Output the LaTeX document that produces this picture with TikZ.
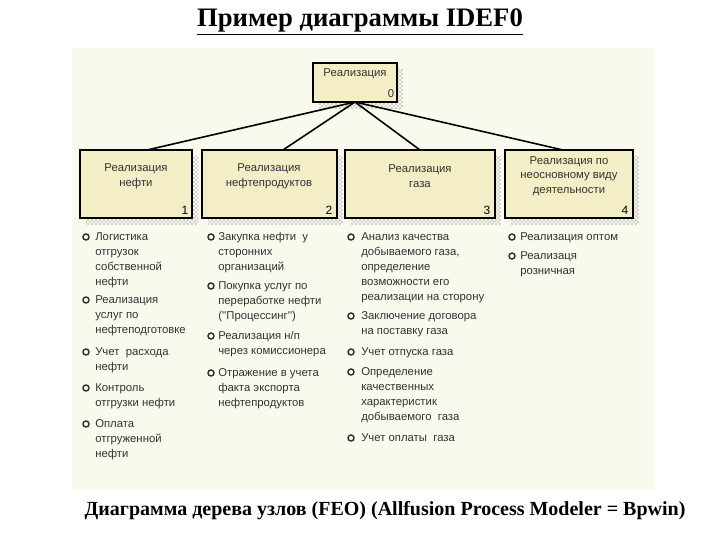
\documentclass[tikz,border=0pt]{standalone}
\usepackage{fontspec}
\setmainfont{Liberation Serif}
\newfontfamily\sans{Liberation Sans}
\usetikzlibrary{patterns}
\definecolor{bg}{HTML}{FAF9EE}
\definecolor{boxfill}{HTML}{F3EEC6}
\definecolor{txt}{HTML}{333333}
\tikzset{
 fbox/.style={draw=black,line width=1.2pt,fill=boxfill,anchor=north west,inner sep=0pt},
 shade/.style={pattern=crosshatch dots,pattern color=black!70},
 btxt/.style={font=\sans\fontsize{8.5}{11}\selectfont,text=txt,align=center},
 item/.style={font=\sans\fontsize{8.5}{11.25}\selectfont,text=txt,anchor=north west,align=left,inner sep=0pt},
 bul/.style={circle,draw=black!80,line width=1.1pt,inner sep=0pt,minimum size=4.5pt},
 conn/.style={line width=1.2pt}
}
\begin{document}
\begin{tikzpicture}[x=0.75pt,y=-0.75pt]
\useasboundingbox (0,0) rectangle (720,540);
\fill[white] (0,0) rectangle (720,540);
\fill[bg] (72,48) rectangle (655,490);
\node[font=\bfseries\fontsize{20}{22}\selectfont] (title) at (360,22) {\underline{Пример диаграммы IDEF0}};
\node[font=\bfseries\fontsize{15}{17}\selectfont,anchor=west] (cap) at (80,511) {Диаграмма дерева узлов (FEO) (Allfusion Process Modeler = Bpwin)};
% shadows
\foreach \a/\b/\c/\d in {313/63/397/102, 80/150/192/218, 202/150/337/218, 345/150/495/218, 505/150/633/218}{
 \fill[shade] (\a+6,\b+6) rectangle (\c+6,\d+6);
}
% boxes
\draw[fbox] (313,63) rectangle (397,102);
\node[btxt] (t0) at (355,74) {Реализация};
\node[font=\sans\fontsize{8.5}{10}\selectfont,text=txt] (n0) at (391,94) {0};
\draw[fbox] (80,150) rectangle (192,218);
\node[btxt] (t1) at (136,176) {Реализация\\нефти};
\node[font=\sans\fontsize{9}{10}\selectfont] (n1) at (185,210) {1};
\draw[fbox] (202,150) rectangle (337,218);
\node[btxt] (t2) at (269,176) {Реализация\\нефтепродуктов};
\node[font=\sans\fontsize{9}{10}\selectfont] (n2) at (329,210) {2};
\draw[fbox] (345,150) rectangle (495,218);
\node[btxt] (t3) at (420,176) {Реализация\\газа};
\node[font=\sans\fontsize{9}{10}\selectfont] (n3) at (487,210) {3};
\draw[fbox] (505,150) rectangle (633,218);
\node[btxt] (t4) at (569,176) {Реализация по\\неосновному виду\\деятельности};
\node[font=\sans\fontsize{9}{10}\selectfont] (n4) at (625,210) {4};
% connectors
\coordinate (c0) at (355,102);
\coordinate (c1) at (147,150);
\coordinate (c2) at (283,150);
\coordinate (c3) at (420,150);
\coordinate (c4) at (563,150);
\foreach \c in {c1,c2,c3,c4} \draw[conn] (c0) -- (\c);
% items
\newcommand\itm[4]{\node[bul] at (#1,#2+5) {}; \node[item] at (#3,#2) {#4};}
\itm{86}{232}{95}{Логистика\\отгрузок\\собственной\\нефти}
\itm{86}{295}{95}{Реализация\\услуг по\\нефтеподготовке}
\itm{86}{347}{95}{Учет\ \ расхода\\нефти}
\itm{86}{383}{95}{Контроль\\отгрузки нефти}
\itm{86}{419}{95}{Оплата\\отгруженной\\нефти}
\itm{211}{232}{218}{Закупка нефти\ \ у\\сторонних\\организаций}
\itm{211}{281}{218}{Покупка услуг по\\переработке нефти\\(''Процессинг'')}
\itm{211}{331}{218}{Реализация н/п\\через комиссионера}
\itm{211}{368}{218}{Отражение в учета\\факта экспорта\\нефтепродуктов}
\itm{351}{232}{361}{Анализ качества\\добываемого газа,\\определение\\возможности его\\реализации на сторону}
\itm{351}{311}{361}{Заключение договора\\на поставку газа}
\itm{351}{347}{361}{Учет отпуска газа}
\itm{351}{367}{361}{Определение\\качественных\\характеристик\\добываемого\ \ газа}
\itm{351}{433}{361}{Учет оплаты\ \ газа}
\itm{512}{232}{520}{Реализация оптом}
\itm{512}{251}{520}{Реализаця\\розничная}
\end{tikzpicture}
\end{document}
